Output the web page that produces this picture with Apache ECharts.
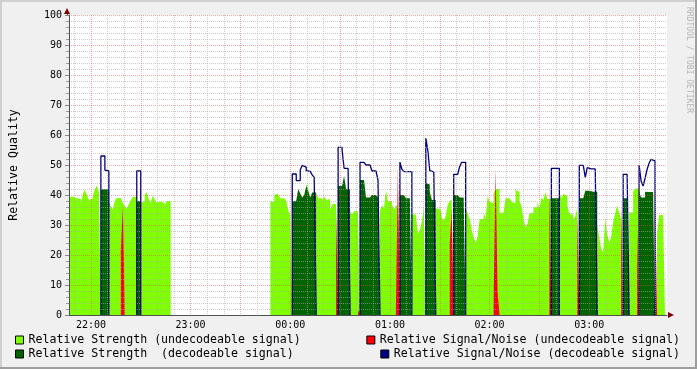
<!DOCTYPE html>
<html>
<head>
<meta charset="utf-8">
<script src="https://cdn.jsdelivr.net/npm/echarts/dist/echarts.min.js"></script>
<style>
html,body{margin:0;padding:0;background:#F0F0F0;}
#chart{width:697px;height:369px;}
</style>
</head>
<body>
<div id="chart"></div>
<script>
// ---- time base (minutes relative to 00:00; negative = previous day) ----
const T0 = -133.2;      // 21:46:48, first sample
const STEP = 1.2;       // minutes per sample
const T_END = 226.8;    // 03:46:48, end of graph

// ---- x tick labels ----
const timeLabels = ['22:00', '23:00', '00:00', '01:00', '02:00', '03:00'];

// ---- series values: runs of [first sample index, values...] ----
const strengthUndecodable = [
  [0,   [39.2,39.5,39.7,38.9,38.6,38.6,37.4,40.5,41.7,39.9,38.3,38.9,39.9,42,43.2,41]],
  [20,  [38.1,36.1,35.2,38.1,39,39,38.5,37.4,36.5,35.5,36.9,38.3,39.3,39.3,39.7]],
  [36,  [37.4,38,40,41,38.5,37.5,39.8,38.6,37.5,37.8,38,37.3,36.3,38,38]],
  [101, [37.8,37.8,40,40.5,39.8,38.9,38.9,38.4,38,34.8,33.3]],
  [119, [43.8,42]],
  [124, [40.3,38.9,38.9,38,39.7,38.3,38.7,34.8,37,37,37]],
  [139, [44]],
  [141, [34.4,33.6,34.6,34.6,34.4]],
  [156, [34.8,36.7,35.5,41.7,37.8,38.1,37,34.9,36.7,36]],
  [172, [33.5,33.5,33.5,27,28.5,31,36]],
  [182, [43]],
  [184, [35.6,35.2,36.7,32.5,31.5,33,36.9,37.8,38.7]],
  [199, [35.5,33.9,32.2,28.3,26.1,24.1,26.1,32,32,34.4,32,39.7,37.8,37.2,40.6,42,42,34.1,34.1,34.1,
         38.9,38.9,38.9,37.8,37.2,41.7,41.1,37.8,36.3,32.2,29.2,30.3,33.9,33.9,35.9,35.9,37.8,35.6,
         39.2,38.3,40.9,38.7,38.7]],
  [246, [41.1,38.9,40.3,39.7,36.5,33.9,33.3,31.9,32.8,35.9]],
  [265, [30,26,22,21,32,27,24.1,26,31,34,36.5,34,32.2]],
  [281, [34.2,34.2,41.1,42.2,42.2]],
  [290, [42.3]],
  [295, [27,33.3,33.3,34.1]]
];
const strengthDecodable = [
  [16,  [41.9,41.9,41.9,41.9]],
  [34,  [38,38]],
  [112, [37.8,38.1,38.3,42,40.5,39.2,40,43,41.4,39.2,40.8,40.8]],
  [135, [43,43,43.3,46.3,42,42]],
  [146, [45,45,45,39.2,39.2,39.2,40,40,40,39.2]],
  [166, [40,40,40,38.9,38.9,38.9]],
  [179, [44,43.5,41,38.3,38.3]],
  [193, [40,40,40,39.2,39.2,39.2]],
  [242, [38.9,38.9,38.9,38.9]],
  [256, [38.9,38.9,38.9,41.4,41.4,41.4,41.1,41.1,41.1]],
  [278, [38.9,38.9,38.9]],
  [286, [41.1,39.2,39.2,41.1,41,41,41,41]]
];
const snrUndecodable = [
  [26,  [21.7,36]],
  [134, [35]],
  [145, [1.7]],
  [164, [2.2,49.1]],
  [191, [23.9,35]],
  [213, [3.3,48.9,7.8]],
  [241, [43.9]],
  [255, [34.4]],
  [277, [38.3]],
  [285, [28.7]],
  [294, [43.9]]
];
const snrDecodable = [
  [16,  [53,53,48.3,48]],
  [34,  [48,48]],
  [112, [47,47,44.8,44.8,48.3,49.9,49.3,48.1,47.9,47.9,46.7,45.9]],
  [135, [55.9,55.9,55,48.9,48.9,48.9]],
  [146, [50.9,50.9,50.9,50,50,50,48,48,47.5,45]],
  [166, [50.9,48.6,47.8,47.8,47.8,47.8]],
  [179, [58.9,55,48.1,47.7,47.7]],
  [193, [46.9,46.9,46.9,49.5,50.9,50.9]],
  [242, [48.9,48.9,48.9,48.9]],
  [256, [49.9,49.9,49.9,45.9,49.1,48.7,48.7,48.7,48.7]],
  [278, [46.9,46.9,46.9]],
  [286, [50,44.7,43,45.5,48.5,50.6,51.9,51.4]]
];

const NAMES = {
  lu: 'Relative Strength (undecodeable signal)',
  ld: 'Relative Strength  (decodeable signal)',
  ru: 'Relative Signal/Noise (undecodeable signal)',
  rd: 'Relative Signal/Noise (decodeable signal)'
};

// ---- build step data (each sample holds its value for one STEP) ----
function tOf(k) { return T0 + k * STEP; }
function stepArea(runs) {
  const out = [];
  runs.forEach(([s, vals]) => {
    vals.forEach((v, i) => { out.push([tOf(s + i), v], [tOf(s + i + 1), v]); });
    out.push([tOf(s + vals.length), null]);
  });
  return out;
}
function stepOutline(runs) {
  const out = [];
  runs.forEach(([s, vals]) => {
    out.push([tOf(s), 0]);
    vals.forEach((v, i) => { out.push([tOf(s + i), v], [tOf(s + i + 1), v]); });
    out.push([tOf(s + vals.length), 0]);
    out.push([tOf(s + vals.length), null]);
  });
  return out;
}
function toMin(lbl) {
  const [h, m] = lbl.split(':').map(Number);
  let v = h * 60 + m;
  if (h >= 12) v -= 1440;
  return v;
}
const labelValues = timeLabels.map(toMin);
const majorGrid = [], minorGrid = [];
for (let v = Math.ceil(T0 / 10) * 10; v <= T_END; v += 10) {
  if (v % 30 === 0) majorGrid.push(v); else minorGrid.push(v);
}

const FONT = '"DejaVu Sans Mono", monospace';
const GRID_GRAY = 'rgba(170,170,170,0.6)';
const GRID_PINK = 'rgba(224,80,80,0.5)';
const AXIS_COL = '#505050';
const ARROW_COL = '#7F0000';

const chart = echarts.init(document.getElementById('chart'), null, {renderer: 'canvas'});

function areaSeries(name, color, runs) {
  return {
    name, type: 'line', data: stepArea(runs), color,
    showSymbol: false, symbol: 'none', connectNulls: false,
    lineStyle: {width: 0}, areaStyle: {color, opacity: 1},
    silent: true, animation: false, z: 2
  };
}

const legendBase = {
  itemWidth: 8, itemHeight: 8, itemGap: 0, padding: 0,
  icon: 'rect', selectedMode: false,
  itemStyle: {borderColor: '#000', borderWidth: 1},
  textStyle: {fontFamily: FONT, fontSize: 11.6, color: '#000'}
};

chart.setOption({
  backgroundColor: '#F0F0F0',
  animation: false,
  grid: {left: 67, right: 30, top: 15, bottom: 54, show: true, backgroundColor: '#FFFFFF', borderWidth: 0},
  xAxis: [
    {
      type: 'value', min: T0, max: T_END, z: 5,
      axisLine: {show: true, onZero: false, lineStyle: {color: AXIS_COL, width: 1}},
      axisTick: {show: false, customValues: minorGrid},
      axisLabel: {
        customValues: labelValues, fontFamily: FONT, fontSize: 10, color: '#000', margin: 5,
        formatter: v => timeLabels[labelValues.indexOf(v)] || ''
      },
      splitLine: {show: true, lineStyle: {color: GRID_GRAY, width: 1, type: [1, 1]}}
    },
    {
      type: 'value', min: T0, max: T_END, z: 5, position: 'bottom',
      axisLine: {show: false, onZero: false}, axisLabel: {show: false},
      axisTick: {show: false, customValues: majorGrid},
      splitLine: {show: true, lineStyle: {color: GRID_PINK, width: 1, type: [1, 1]}}
    }
  ],
  yAxis: {
    type: 'value', min: 0, max: 100, interval: 10, z: 5,
    name: 'Relative Quality', nameLocation: 'middle', nameGap: 49, nameRotate: 90,
    nameTextStyle: {fontFamily: FONT, fontSize: 11.6, color: '#000'},
    axisLine: {show: true, onZero: false, lineStyle: {color: AXIS_COL, width: 1}},
    axisTick: {show: true, length: 4, lineStyle: {color: '#888'}},
    minorTick: {show: true, splitNumber: 5, length: 3, lineStyle: {color: '#999'}},
    axisLabel: {fontFamily: FONT, fontSize: 10, color: '#000', margin: 7},
    splitLine: {show: true, lineStyle: {color: GRID_PINK, width: 1, type: [1, 1]}},
    minorSplitLine: {show: true, lineStyle: {color: GRID_GRAY, width: 1, type: [1, 1]}}
  },
  legend: [
    Object.assign({}, legendBase, {left: 15, top: 334, data: [NAMES.lu]}),
    Object.assign({}, legendBase, {right: 17, top: 334, data: [NAMES.ru]}),
    Object.assign({}, legendBase, {left: 15, top: 348, data: [NAMES.ld]}),
    Object.assign({}, legendBase, {right: 17, top: 348, data: [NAMES.rd]})
  ],
  series: [
    areaSeries(NAMES.lu, '#7FFF00', strengthUndecodable),
    areaSeries(NAMES.ld, '#006400', strengthDecodable),
    areaSeries(NAMES.ru, '#FF0000', snrUndecodable),
    {
      name: NAMES.rd, type: 'line', data: stepOutline(snrDecodable), color: '#000080',
      showSymbol: false, symbol: 'none', connectNulls: false,
      lineStyle: {width: 1.3, color: '#000080'}, silent: true, animation: false, z: 3
    }
  ],
  graphic: [
    {type: 'rect', shape: {x: 0, y: 0, width: 697, height: 2}, style: {fill: '#CFCFCF'}, silent: true},
    {type: 'rect', shape: {x: 0, y: 0, width: 2, height: 369}, style: {fill: '#CFCFCF'}, silent: true},
    {type: 'rect', shape: {x: 0, y: 367, width: 697, height: 2}, style: {fill: '#9E9E9E'}, silent: true},
    {type: 'rect', shape: {x: 695, y: 0, width: 2, height: 369}, style: {fill: '#9E9E9E'}, silent: true},
    {type: 'polygon', shape: {points: [[64, 14], [70, 14], [67, 8]]}, style: {fill: ARROW_COL}, z: 10, silent: true},
    {type: 'polygon', shape: {points: [[668, 312], [668, 318], [674, 315]]}, style: {fill: ARROW_COL}, z: 10, silent: true},
    {type: 'line', shape: {x1: 67.5, y1: 14, x2: 67.5, y2: 15}, style: {stroke: AXIS_COL, lineWidth: 1}, silent: true},
    {
      type: 'text', x: 689, y: 60, rotation: -Math.PI / 2, silent: true,
      style: {text: 'RRDTOOL / TOBI OETIKER', fill: '#b4b4b4', font: '8px ' + FONT, align: 'center', verticalAlign: 'middle'}
    }
  ]
});
</script>
</body>
</html>
